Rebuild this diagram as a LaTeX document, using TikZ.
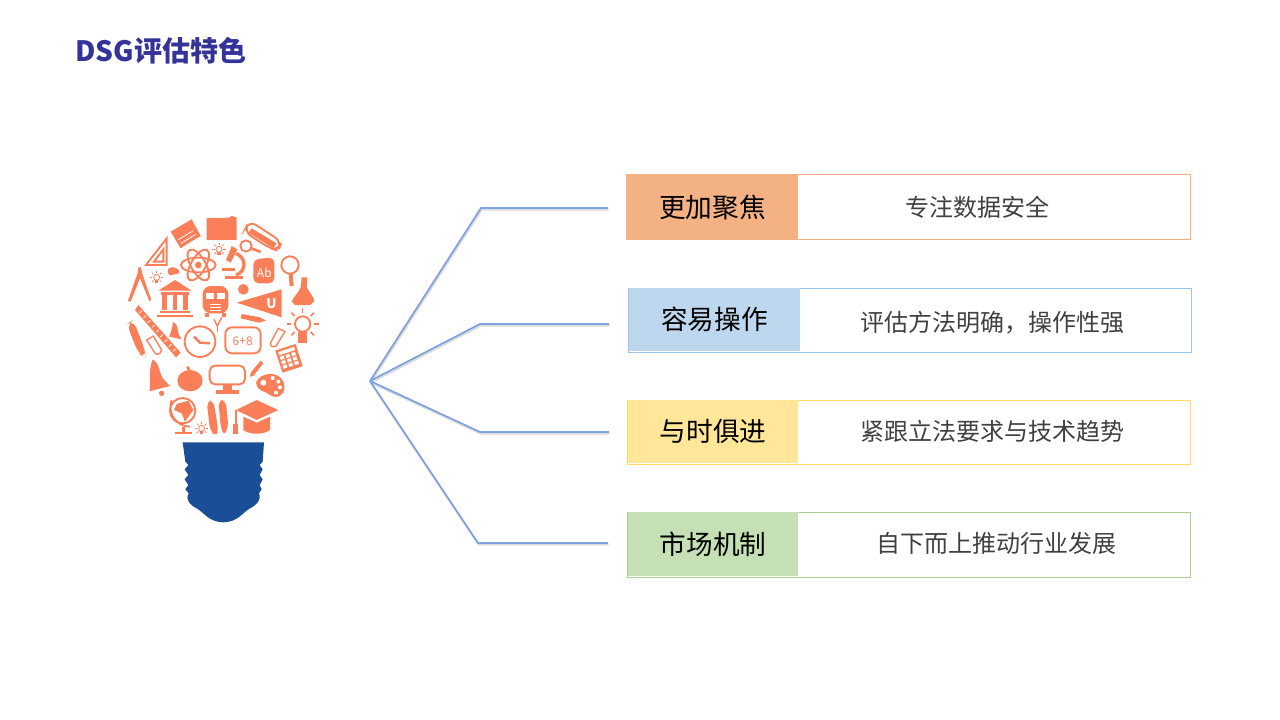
\documentclass[tikz,border=0pt]{standalone}
\usepackage{fontspec}
\usetikzlibrary{calc}
\setmainfont{Noto Sans CJK SC}
\definecolor{titleblue}{HTML}{333399}
\definecolor{linkblue}{HTML}{7FA3DE}
\definecolor{icoorange}{HTML}{FA7F59}
\definecolor{baseblue}{HTML}{1A4E96}
\definecolor{orangefill}{HTML}{F4B183}
\definecolor{bluefill}{HTML}{BDD7EE}
\definecolor{yellowfill}{HTML}{FFE699}
\definecolor{greenfill}{HTML}{C5E0B4}
\definecolor{blueedge}{HTML}{9DC3E6}
\definecolor{yellowedge}{HTML}{FFD966}
\definecolor{greenedge}{HTML}{A9D18E}
\tikzset{
	tagbox/.style = {anchor = north west, inner sep = 0, text = black, font = \fontsize{20}{24}\selectfont},
	descbox/.style = {inner sep = 0, text = black!75, font = \fontsize{18}{22}\selectfont},
	link/.style = {draw = linkblue, line width = 1.3pt, line join = round,
		preaction = {draw = black!14, line width = 1.5pt, transform canvas = {xshift = .5pt, yshift = -1.2pt}}},
	ico/.style = {fill = icoorange, draw = none},
	icoline/.style = {draw = icoorange, line width = 1.4pt, fill = none},
	icothin/.style = {draw = icoorange, line width = .6pt, fill = none},
	icowhite/.style = {draw = white, line width = .6pt},
	icotext/.style = {inner sep = 0, text = white, font = \fontsize{7}{8}\selectfont}
}
\begin{document}
\begin{tikzpicture}[x = .75pt, y = -.75pt]
	\useasboundingbox (0,0) rectangle (1280,720);
	\node (title) at (75,51) [anchor = west, inner sep = 0, text = titleblue, font = \fontsize{21}{24}\selectfont\bfseries] {DSG评估特色};

	% the bulb
	\begin{scope}[shift = {(110,200)}, x = .25pt, y = -.25pt]
		\fill [baseblue] (218,727) -- (462,727) -- (458,785) -- (449,795) -- (458,808) -- (449,825) -- (458,838) -- (449,855) -- (455,868) -- (447,880) .. controls (455,900) and (440,915) .. (420,925) .. controls (395,940) and (385,965) .. (340,967) .. controls (295,965) and (285,940) .. (260,925) .. controls (240,915) and (225,900) .. (236,880) -- (226,868) -- (235,855) -- (224,838) -- (235,825) -- (224,808) -- (235,795) -- (226,785) -- cycle;
		% top row
		\fill [ico] (182,95) -- (245,58) -- (272,108) -- (212,145) -- cycle;
		\foreach \s in {0.25,0.5,0.75}
		\draw [icowhite] ($(197,108)!\s!(228,152)$) -- ++(45,-27);
		\fill [ico] (290,55) .. controls (320,50) and (350,60) .. (365,48) -- (380,52) -- (380,120) -- (290,120) -- cycle;
		\draw [icoline, rounded corners = 6pt] (418,62) -- (515,125) -- (505,152) -- (480,145) -- (402,95) -- cycle;
		\fill [ico] (425,85) -- (500,130) -- (490,145) -- (415,98) -- cycle;
		\draw [icoline] (408,138) circle (17);
		\draw [icoorange, line width = 2pt] (424,145) -- (452,156);
		\draw [icoline] (170,115) -- (170,195) -- (108,195) -- cycle;
		\draw [icoline] (160,148) -- (160,185) -- (132,185) -- cycle;
		\foreach \a in {0,60,120}
		\draw [icoline, rotate around = {\a:(265,195)}] (265,195) ellipse (52 and 22);
		\fill [ico] (265,195) circle (10);
		\fill [ico] (365,138) -- (382,148) -- (362,188) -- (348,180) -- cycle;
		\draw [icoline, line width = 2.5pt] (378,160) .. controls (412,175) and (408,215) .. (378,225);
		\fill [ico] (335,205) -- (375,205) -- (375,214) -- (335,214) -- cycle;
		\fill [ico] (345,228) -- (398,228) -- (398,238) -- (345,238) -- cycle;
		\fill [ico, rounded corners = 4pt] (430,178) -- (493,172) -- (493,250) -- (430,250) -- cycle;
		\node (abtext) at (463,218) [icotext, font = \fontsize{9}{10}\selectfont\itshape] {Ab};
		\draw [icoline] (540,195) circle (26);
		\draw [icoorange, line width = 3pt] (542,222) -- (545,258);
		\foreach \x/\y in {327/148, 140/232, 275/685}{
			\draw [icothin] (\x,\y) circle (9);
			\fill [ico] (\x-5,\y+9) rectangle (\x+5,\y+18);
			\foreach \a in {0,45,135,180,225,270,315}
			\draw [icothin] (\x,\y) ++(\a:13) -- ++(\a:7);
		}
		% second row
		\fill [ico] (176,205) .. controls (190,195) and (212,208) .. (208,220) -- (178,226) .. controls (172,220) and (172,212) .. (176,205) -- cycle;
		\fill [ico] (85,202) -- (93,202) -- (97,222) -- (124,300) -- (118,303) -- (90,235) -- (62,305) -- (54,302) -- (82,222) -- cycle;
		\fill [ico] (145,272) -- (195,240) -- (245,272) -- cycle;
		\foreach \x in {163,195,226}
		\fill [ico] (\x-7,285) rectangle (\x+7,330);
		\fill [ico] (152,276) rectangle (238,284);
		\fill [ico] (150,332) rectangle (240,340);
		\fill [ico] (140,344) rectangle (248,352);
		\fill [ico, rounded corners = 6pt] (278,258) rectangle (355,340);
		\fill [white] (289,278) rectangle (312,296);
		\fill [white] (320,278) rectangle (344,296);
		\foreach \y in {314,322,330}
		\draw [icowhite] (300,\y) -- (332,\y);
		\fill [ico] (285,340) rectangle (298,352);
		\fill [ico] (335,340) rectangle (348,352);
		\fill [ico] (400,268) circle (16);
		\fill [ico] (380,308) -- (515,268) -- (515,352) -- cycle;
		\node (utext) at (484,310) [icotext, font = \fontsize{10}{11}\selectfont\bfseries] {U};
		\fill [ico] (575,232) -- (592,232) -- (590,262) .. controls (600,280) and (615,295) .. (612,305) -- (600,315) -- (555,315) -- (545,305) .. controls (550,290) and (565,280) .. (572,262) -- cycle;
		% third row
		\fill [ico] (85,315) -- (212,458) -- (198,472) -- (75,330) -- cycle;
		\foreach \s in {0.1,0.2,...,0.95}
		\draw [icowhite] ($(83,318)!\s!(210,461)$) -- ++(-8,7);
		\fill [ico, rounded corners = 6pt] (50,372) -- (70,360) -- (105,450) -- (106,475) -- (85,460) -- cycle;
		\draw [icothin, line width = 1pt] (110,420) -- (130,408) -- (155,450) .. controls (150,468) and (135,465) .. (132,455) -- cycle;
		\fill [ico] (190,365) -- (200,375) -- (207,405) -- (215,418) -- (178,410) -- (183,395) -- cycle;
		\draw [icoline] (270,425) circle (46);
		\draw [icoorange, line width = 1.8pt] (252,410) -- (270,428) -- (300,430);
		\draw [icothin, line width = 1pt] (312,358) -- (322,378) -- (335,352);
		\draw [icothin, line width = 1pt] (322,378) -- (322,395);
		\fill [ico] (395,342) -- (450,352) -- (468,362) -- (448,368) -- (392,355) -- cycle;
		\draw [icoline, rounded corners = 5pt] (346,382) rectangle (452,460);
		\node (sumtext) at (398,423) [inner sep = 0, text = icoorange, font = \fontsize{9}{10}\selectfont] {6+8};
		\draw [icothin, line width = 1pt] (505,385) -- (525,395) -- (498,438) .. controls (488,445) and (478,435) .. (482,428) -- cycle;
		\draw [icoline] (578,372) circle (23);
		\fill [ico] (565,396) rectangle (590,428);
		\foreach \a in {0,45,90,135,180,225,315}
		\draw [icoline, line width = 1.2pt] (578,372) ++({-\a}:34) -- ++({-\a}:14);
		\fill [ico, rotate around = {18:(537,475)}] (505,440) rectangle (569,510);
		\foreach \r in {0,1,2}
		\foreach \c in {0,1,2}
		\fill [white, rotate around = {18:(537,475)}] (512+\c*18,462+\r*14) rectangle (524+\c*18,472+\r*14);
		\fill [white, rotate around = {18:(537,475)}] (512,447) rectangle (562,457);
		% fourth row
		\fill [ico] (128,478) .. controls (145,485) and (148,515) .. (158,535) -- (180,558) -- (118,574) .. controls (125,545) and (112,520) .. (128,478) -- cycle;
		\fill [ico] (155,580) circle (8);
		\fill [ico] (240,542) ellipse (38 and 32);
		\draw [icoorange, line width = 2pt] (238,512) -- (232,500);
		\draw [icoline, rounded corners = 4pt] (299,497) rectangle (405,553);
		\fill [ico] (340,555) rectangle (365,570);
		\fill [ico] (318,570) rectangle (388,582);
		\fill [ico] (452,482) -- (460,490) -- (430,528) -- (420,530) -- (422,518) -- cycle;
		\fill [ico] (438,548) .. controls (450,515) and (510,510) .. (522,550) .. controls (530,585) and (500,600) .. (480,585) .. controls (465,570) and (445,580) .. (438,548) -- cycle;
		\fill [white] (460,548) circle (9);
		\foreach \x/\y in {488/534, 505/545, 510/562, 498/578}
		\fill [white] (\x,\y) circle (6);
		\draw [icoline] (218,632) circle (38);
		\fill [ico] (200,612) -- (235,602) -- (250,630) -- (225,665) -- (215,640) -- (192,630) -- cycle;
		\draw [icoline] (185,600) .. controls (170,640) and (200,680) .. (240,680);
		\fill [ico] (195,695) rectangle (245,703);
		\fill [ico] (216,680) rectangle (224,695);
		\fill [ico, rounded corners = 4pt] (290,605) -- (310,600) -- (325,690) -- (317,710) -- (300,690) -- cycle;
		\fill [ico, rounded corners = 4pt] (325,600) -- (347,600) -- (355,680) -- (342,708) -- (332,680) -- cycle;
		\fill [ico] (378,630) -- (440,600) -- (505,630) -- (440,660) -- cycle;
		\fill [ico] (400,650) -- (440,668) -- (480,650) -- (480,690) .. controls (460,705) and (420,705) .. (400,690) -- cycle;
		\draw [icoorange, line width = 1pt] (378,630) -- (378,675);
		\fill [ico] (370,672) rectangle (385,702);
	\end{scope}

	% the rows
	\draw [orangefill, line width = .75pt] (626.5,175) rectangle (1190.5,240);
	\draw [blueedge, line width = .75pt] (628,288) rectangle (1191,352);
	\draw [yellowedge, line width = .75pt] (627.5,400) rectangle (1190.5,464);
	\draw [greenedge, line width = .75pt] (627.5,512) rectangle (1190.5,577);
	\node (tag1) at (626.5,175) [tagbox, fill = orangefill, minimum width = 171.5*.75pt, minimum height = 65*.75pt] {更加聚焦};
	\node (tag2) at (628.5,288) [tagbox, fill = bluefill, minimum width = 171.5*.75pt, minimum height = 63*.75pt] {\raisebox{-.75pt}{容易操作}};
	\node (tag3) at (627.5,400) [tagbox, fill = yellowfill, minimum width = 170.5*.75pt, minimum height = 63*.75pt] {与时俱进};
	\node (tag4) at (627.5,512) [tagbox, fill = greenfill, minimum width = 170.5*.75pt, minimum height = 64*.75pt] {\raisebox{-.75pt}{市场机制}};
	\node (desc1) at (977,207) [descbox] {专注数据安全};
	\node (desc2) at (992,323) [descbox] {评估方法明确，操作性强};
	\node (desc3) at (992,431) [descbox] {紧跟立法要求与技术趋势};
	\node (desc4) at (996,543) [descbox] {自下而上推动行业发展};

	% the links
	\coordinate (hub) at (370,381);
	\coordinate (bend1) at (481,208);
	\coordinate (bend2) at (480,324);
	\coordinate (bend3) at (480,432);
	\coordinate (bend4) at (478,543);
	\coordinate (end1) at (608,208);
	\coordinate (end2) at (609,324);
	\coordinate (end3) at (609,432);
	\coordinate (end4) at (608,543);
	\foreach \n in {1,2,3,4}
	\draw [link] (hub) -- (bend\n) -- (end\n);
\end{tikzpicture}
\end{document}
